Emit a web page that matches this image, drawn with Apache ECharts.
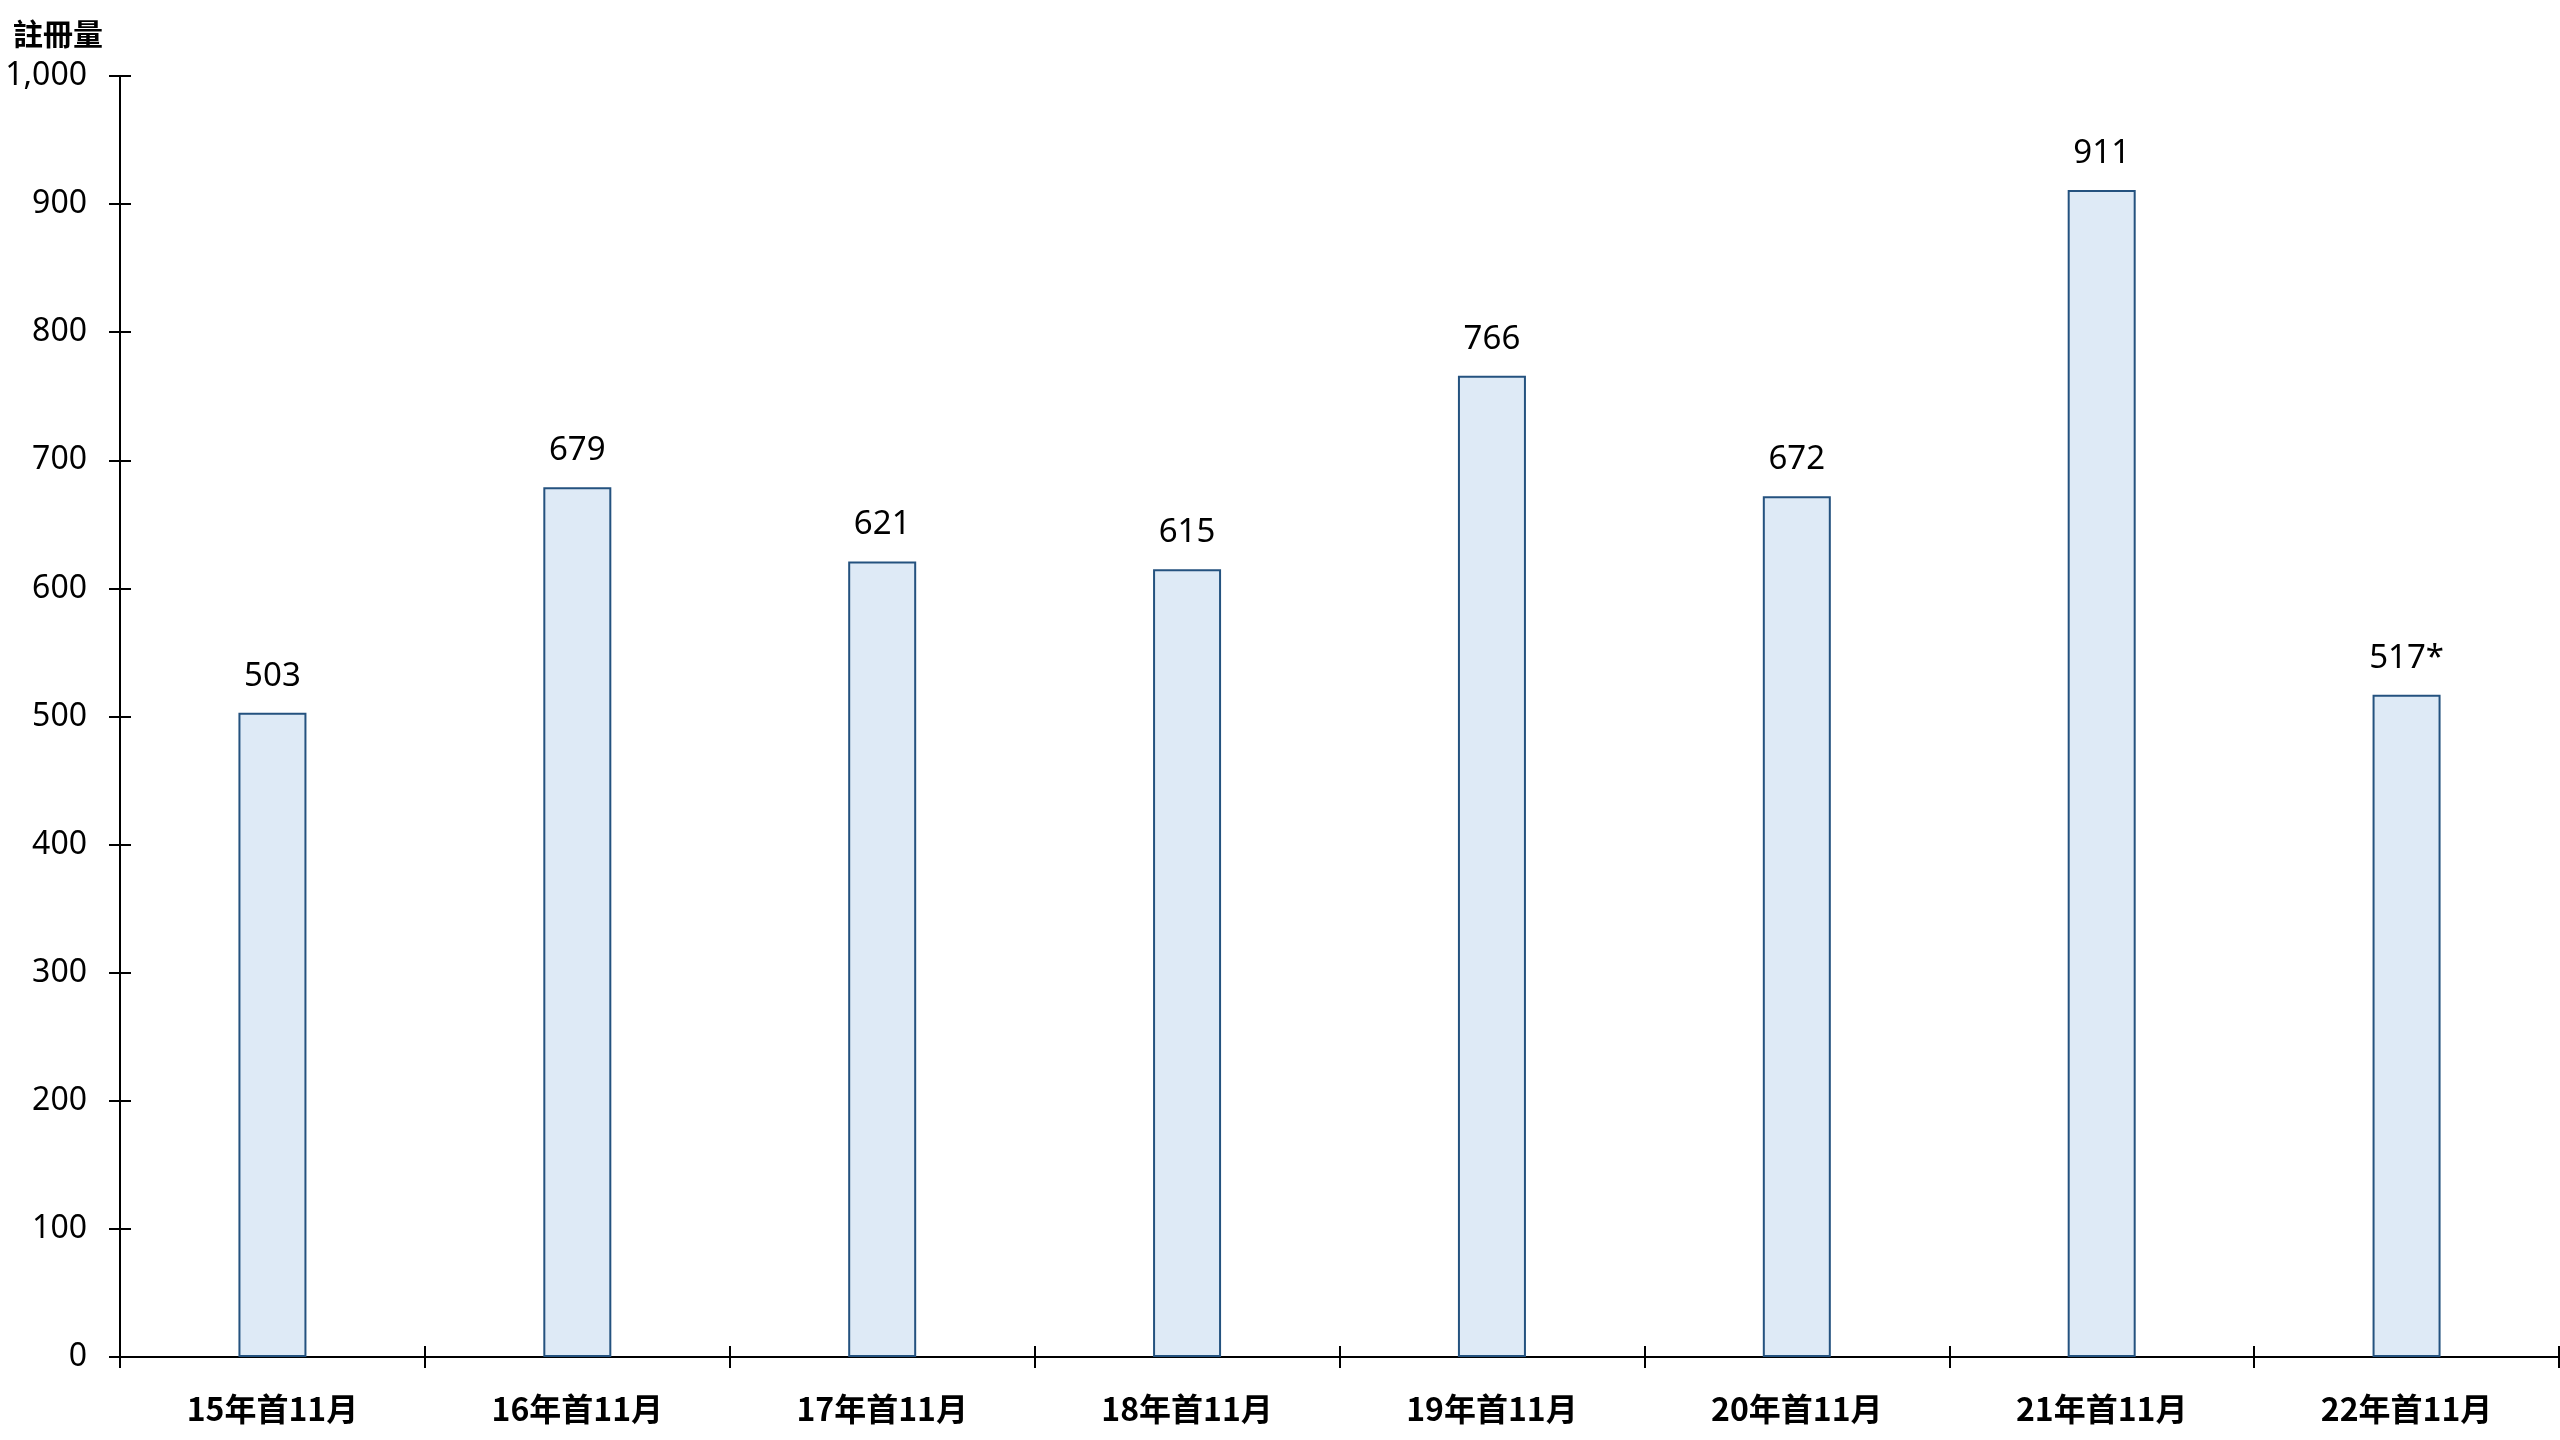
<!DOCTYPE html>
<html>
<head>
<meta charset="utf-8">
<script src="https://cdn.jsdelivr.net/npm/echarts@6/dist/echarts.min.js"></script>
<style>
  html, body { margin: 0; padding: 0; background: #fff; }
  #chart { width: 2560px; height: 1440px; }
</style>
</head>
<body>
<div id="chart"></div>
<script>
  // 類別與數值
  const categories = ['15年首11月', '16年首11月', '17年首11月', '18年首11月', '19年首11月', '20年首11月', '21年首11月', '22年首11月'];
  const registrations = [503, 679, 621, 615, 766, 672, 911, 517];
  const labelMarks = ['', '', '', '', '', '', '', '*'];
  const yTicks = { min: 0, max: 1000, interval: 100 };

  const font = '"Noto Sans CJK TC", "Noto Sans", sans-serif';
  const numFont = '"Noto Sans", "Noto Sans CJK TC", sans-serif';

  var chartDom = document.getElementById('chart');
  var myChart = echarts.init(chartDom);

  var option = {
    animation: false,
    title: {
      text: '註冊量',
      left: 8,
      top: 14,
      textStyle: { fontFamily: font, fontSize: 30, fontWeight: 'bold', color: '#000' }
    },
    grid: { left: 120, right: 1, top: 76, bottom: 83, containLabel: false },
    xAxis: [
      {
        type: 'category',
        data: categories,
        position: 'bottom',
        axisLine: { lineStyle: { color: '#000', width: 2 } },
        axisTick: { show: true, length: 11, lineStyle: { color: '#000', width: 2 } },
        axisLabel: { color: '#000', fontFamily: font, fontSize: 32, fontWeight: 'bold', margin: 36 },
        splitLine: { show: false }
      },
      {
        // 內側刻度，使刻度線穿過軸線
        type: 'category',
        data: categories,
        position: 'bottom',
        axisLine: { show: false },
        axisTick: { show: true, inside: true, length: 11, lineStyle: { color: '#000', width: 2 } },
        axisLabel: { show: false },
        splitLine: { show: false }
      }
    ],
    yAxis: [
      {
        type: 'value',
        min: yTicks.min,
        max: yTicks.max,
        interval: yTicks.interval,
        axisLine: { show: true, lineStyle: { color: '#000', width: 2 } },
        axisTick: { show: true, length: 11, lineStyle: { color: '#000', width: 2 } },
        axisLabel: {
          color: '#000', fontFamily: numFont, fontSize: 32, margin: 33,
          formatter: v => v.toLocaleString('en-US')
        },
        splitLine: { show: false }
      },
      {
        type: 'value',
        position: 'left',
        min: yTicks.min,
        max: yTicks.max,
        interval: yTicks.interval,
        axisLine: { show: false },
        axisTick: { show: true, inside: true, length: 11, lineStyle: { color: '#000', width: 2 } },
        axisLabel: { show: false },
        splitLine: { show: false }
      }
    ],
    series: [
      {
        type: 'bar',
        xAxisIndex: 0,
        yAxisIndex: 0,
        data: registrations,
        barWidth: 68,
        itemStyle: { color: '#DEEAF6', borderColor: '#24527F', borderWidth: 2 },
        label: {
          show: true,
          position: 'top',
          distance: 20,
          color: '#000',
          fontFamily: numFont,
          fontSize: 33,
          formatter: p => p.value + labelMarks[p.dataIndex]
        }
      }
    ]
  };

  myChart.setOption(option);
</script>
</body>
</html>
